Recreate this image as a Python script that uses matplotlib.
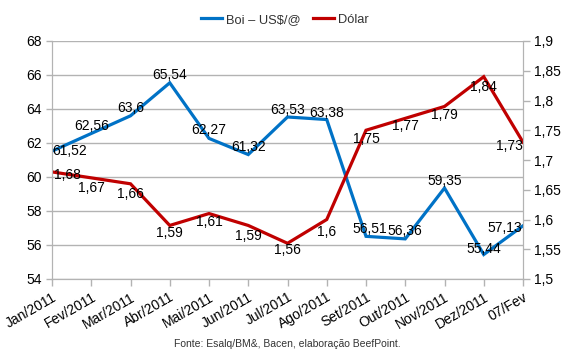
import matplotlib
matplotlib.use("Agg")
import matplotlib.pyplot as plt
from matplotlib.ticker import FuncFormatter, MultipleLocator

plt.rcParams['font.family'] = ['Liberation Sans', 'DejaVu Sans']

categories = ["Jan/2011", "Fev/2011", "Mar/2011", "Abr/2011", "Mai/2011", "Jun/2011",
              "Jul/2011", "Ago/2011", "Set/2011", "Out/2011", "Nov/2011", "Dez/2011", "07/Fev"]
boi = [61.52, 62.56, 63.6, 65.54, 62.27, 61.32, 63.53, 63.38, 56.51, 56.36, 59.35, 55.44, 57.13]
dolar = [1.68, 1.67, 1.66, 1.59, 1.61, 1.59, 1.56, 1.6, 1.75, 1.77, 1.79, 1.84, 1.73]

# label offsets in pixels (dx, dy) -- dy positive = down
boi_off = [(18, 0), (0, -7), (0, -8), (0, -8), (0, -8), (0, -8), (0, -7), (0, -7),
           (4, -7), (0, -8), (0, -7), (0, -6), (-18, 2)]
dol_off = [(15, 3), (0, 10), (0, 10), (0, 8), (0, 8), (0, 11), (0, 7), (0, 12),
           (0, 9), (0, 8), (0, 9), (0, 10), (-14, 4)]

BLUE = "#0072C6"
RED = "#C00000"
GRID = "#b3b3b3"

fig = plt.figure(figsize=(5.7, 3.53), dpi=100)
ax = fig.add_axes([52/570, 1-279/353, (523-52)/570, (279-41)/353])
ax2 = ax.twinx()

x = list(range(len(categories)))
l1, = ax.plot(x, boi, color=BLUE, lw=2.3, solid_joinstyle='miter')
l2, = ax2.plot(x, dolar, color=RED, lw=2.3, solid_joinstyle='miter')

fmt = lambda v: f"{v:g}".replace(".", ",")
for xi, v, (dx, dy) in zip(x, boi, boi_off):
    ax.annotate(fmt(v), (xi, v), xytext=(dx*0.72, -dy*0.72), textcoords='offset points',
                ha='center', va='center', fontsize=10, color='black', zorder=5)
for xi, v, (dx, dy) in zip(x, dolar, dol_off):
    ax2.annotate(fmt(v), (xi, v), xytext=(dx*0.72, -dy*0.72), textcoords='offset points',
                 ha='center', va='center', fontsize=10, color='black', zorder=5)

ax.set_xlim(0, len(categories)-1)
ax.set_ylim(54, 68)
ax.yaxis.set_major_locator(MultipleLocator(2))
ax2.set_ylim(1.5, 1.9)
ax2.yaxis.set_major_locator(MultipleLocator(0.05))
ax2.yaxis.set_major_formatter(FuncFormatter(lambda v, p: f"{v:.2f}".rstrip('0').rstrip('.').replace('.', ',')))

ax.set_xticks(x)
ax.set_xticklabels(categories, rotation=30, ha='right', rotation_mode='anchor', fontsize=10)
ax.grid(axis='y', color=GRID, lw=1)
ax.set_axisbelow(True)

for a in (ax, ax2):
    for s in a.spines.values():
        s.set_color(GRID)
    a.spines['top'].set_visible(False)
    a.tick_params(colors=GRID, labelcolor='black', labelsize=10, length=4, width=1)
ax.tick_params(axis='x', length=5, pad=3)
ax2.tick_params(axis='y', length=5, pad=3)

ax2.set_zorder(ax.get_zorder()+1)
ax2.patch.set_visible(False)

fig.legend([l1, l2], ["Boi – US$/@", "Dólar"], loc='center', bbox_to_anchor=(0.5, 1-20/353),
           ncol=2, frameon=False, fontsize=9.3, handlelength=1.6, handletextpad=0.3,
           columnspacing=1.0, labelcolor='#333333')

fig.text(287/570, 1-344/353, "Fonte: Esalq/BM&, Bacen, elaboração BeefPoint.", ha='center',
         va='center', fontsize=7.5, color='#333333')

fig.savefig("out.png", dpi=100)
